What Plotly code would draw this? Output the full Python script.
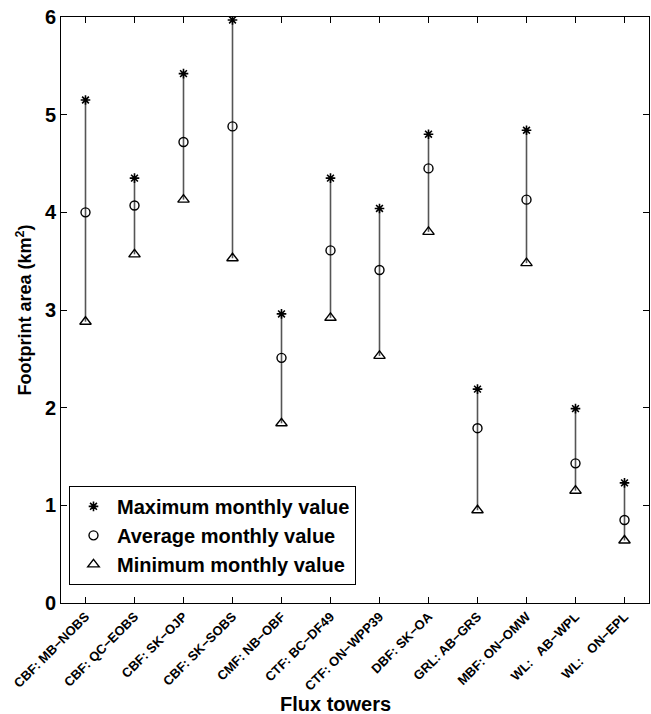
import plotly.graph_objects as go

# Flux tower sites (ecosystem type: site code)
towers = [
    "CBF: MB\u2212NOBS", "CBF: QC\u2212EOBS", "CBF: SK\u2212OJP", "CBF: SK\u2212SOBS",
    "CMF: NB\u2212OBF", "CTF: BC\u2212DF49", "CTF: ON\u2212WPP39", "DBF: SK\u2212OA",
    "GRL: AB\u2212GRS", "MBF: ON\u2212OMW", "WL:\u00a0\u00a0 AB\u2212WPL", "WL:\u00a0\u00a0 ON\u2212EPL",
]

# Monthly footprint area (km^2)
max_monthly = [5.15, 4.35, 5.42, 5.97, 2.96, 4.35, 4.04, 4.80, 2.19, 4.84, 1.99, 1.23]
avg_monthly = [4.00, 4.07, 4.72, 4.88, 2.51, 3.61, 3.41, 4.45, 1.79, 4.13, 1.43, 0.85]
min_monthly = [2.88, 3.57, 4.13, 3.53, 1.84, 2.92, 2.53, 3.80, 0.95, 3.48, 1.15, 0.64]

y_ticks = [0, 1, 2, 3, 4, 5, 6]

pos = list(range(1, len(towers) + 1))
FONT = "Arial, Liberation Sans, Helvetica, sans-serif"

# Range lines from minimum to maximum
seg_x, seg_y = [], []
for p, lo, hi in zip(pos, min_monthly, max_monthly):
    seg_x += [p, p, None]
    seg_y += [lo, hi, None]

fig = go.Figure()
fig.add_trace(go.Scatter(
    x=seg_x, y=seg_y, mode="lines",
    line=dict(color="#555555", width=1.6),
    showlegend=False, hoverinfo="skip",
))
fig.add_trace(go.Scatter(
    x=pos, y=max_monthly, mode="markers", name="Maximum monthly value",
    marker=dict(symbol="asterisk-open", size=8, color="black",
                line=dict(color="black", width=1.6)),
))
fig.add_trace(go.Scatter(
    x=pos, y=avg_monthly, mode="markers", name="Average monthly value",
    marker=dict(symbol="circle-open", size=9, color="black",
                line=dict(color="black", width=1.4)),
))
fig.add_trace(go.Scatter(
    x=pos, y=min_monthly, mode="markers", name="Minimum monthly value",
    marker=dict(symbol="triangle-up-open", size=10, color="black",
                line=dict(color="black", width=1.4)),
))

fig.update_layout(
    width=651, height=714,
    margin=dict(l=61, r=2, t=17, b=111),
    plot_bgcolor="white", paper_bgcolor="white",
    font=dict(family=FONT, color="black"),
    showlegend=True,
    legend=dict(
        x=0.0136, y=0.031, xanchor="left", yanchor="bottom",
        bordercolor="black", borderwidth=1, bgcolor="white",
        font=dict(size=20, family=FONT, color="black", weight="bold"),
        tracegroupgap=0, itemwidth=37,
    ),
    xaxis=dict(
        range=[0.5, 12.5], tickmode="array", tickvals=pos, ticktext=towers,
        tickangle=-45, tickfont=dict(size=13, family=FONT, weight="bold"),
        ticks="inside", ticklen=6, tickcolor="black",
        showline=True, linecolor="black", linewidth=1, mirror="ticks",
        showgrid=False, zeroline=False,
    ),
    yaxis=dict(
        range=[0, 6], tickmode="array", tickvals=y_ticks,
        tickfont=dict(size=20, family=FONT, weight="bold"),
        ticks="inside", ticklen=6, tickcolor="black",
        showline=True, linecolor="black", linewidth=1, mirror="ticks",
        showgrid=False, zeroline=False,
        title=dict(text="Footprint area (km<sup>2</sup>)",
                   font=dict(size=18, family=FONT, weight="bold"), standoff=8),
    ),
    annotations=[dict(
        text="Flux towers", xref="paper", yref="paper",
        x=0.466, y=-0.173, xanchor="center", yanchor="middle",
        showarrow=False, font=dict(size=20, family=FONT, weight="bold"),
    )],
)

fig.write_html("out.html")
